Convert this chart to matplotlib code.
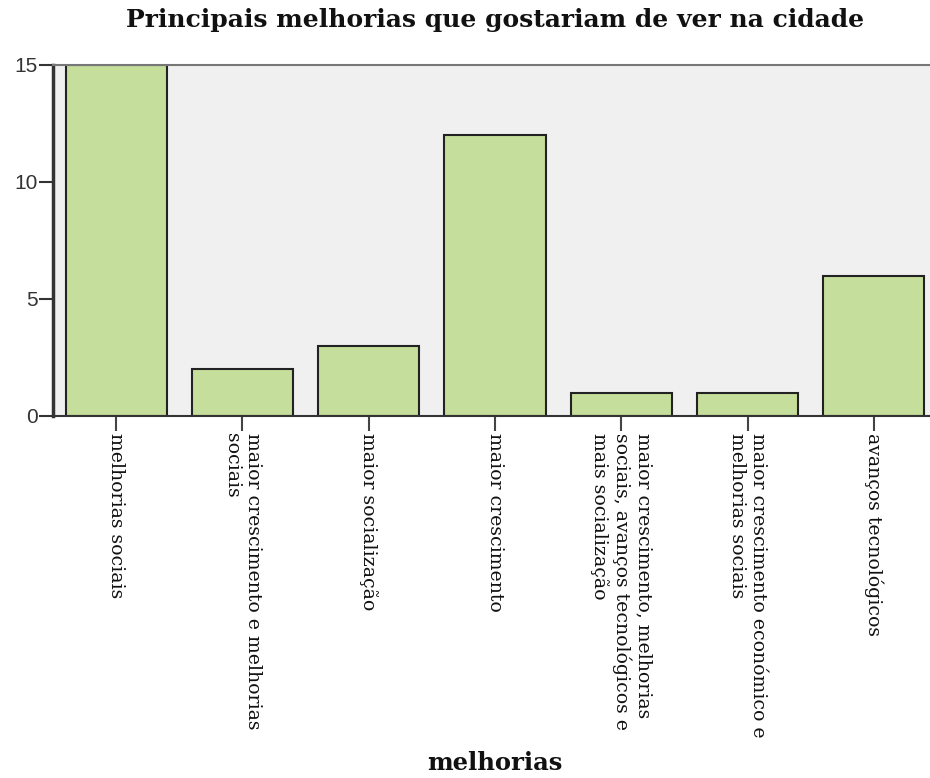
import matplotlib.pyplot as plt
from matplotlib.ticker import MultipleLocator

# dados
categorias = [
    "melhorias sociais",
    "maior crescimento e melhorias\nsociais",
    "maior socialização",
    "maior crescimento",
    "maior crescimento, melhorias\nsociais, avanços tecnológicos e\nmais socialização",
    "maior crescimento económico e\nmelhorias sociais",
    "avanços tecnológicos",
]
contagens = [15, 2, 3, 12, 1, 1, 6]

fig = plt.figure(figsize=(9.3, 7.78), dpi=100)
ax = fig.add_axes([53 / 930, 1 - 416 / 778, 884 / 930, 351 / 778])
ax.set_facecolor("#f0f0f0")

x = range(len(categorias))
ax.bar(x, contagens, width=0.8, color="#c6de9c", edgecolor="#222222", linewidth=1.5)

ax.set_xlim(-0.5, len(categorias) - 0.5)
ax.set_ylim(0, 15)
ax.yaxis.set_major_locator(MultipleLocator(5))

for side in ["top", "right"]:
    ax.spines[side].set_color("#777777")
    ax.spines[side].set_linewidth(1.5)
ax.spines["left"].set_color("#333333")
ax.spines["left"].set_linewidth(2.5)
ax.spines["bottom"].set_color("#333333")
ax.spines["bottom"].set_linewidth(1.5)

ax.tick_params(axis="y", length=10, width=1.5, color="#333333", labelsize=15, pad=1)
for lab in ax.get_yticklabels():
    lab.set_family("Liberation Sans")
    lab.set_color("#333333")

ax.set_xticks(list(x))
ax.set_xticklabels([])
ax.tick_params(axis="x", length=11, width=1.5, color="#444444")

# rotulos verticais, centrados no tick
for i, lab in enumerate(categorias):
    ax.annotate(lab, xy=(i, 0), xycoords=("data", "axes fraction"),
                xytext=(0, -12), textcoords="offset points",
                rotation=270, rotation_mode="anchor", ha="left", va="center",
                family="DejaVu Serif", fontsize=13.6, color="#111111",
                linespacing=1.2)

fig.text(0.532, 0.974, "Principais melhorias que gostariam de ver na cidade",
         ha="center", va="center", family="DejaVu Serif", fontweight="bold",
         fontsize=18, color="#111111")
fig.text(0.532, 0.019, "melhorias", ha="center", va="center",
         family="DejaVu Serif", fontweight="bold", fontsize=17.5, color="#111111")

fig.savefig("out.png", dpi=100)
